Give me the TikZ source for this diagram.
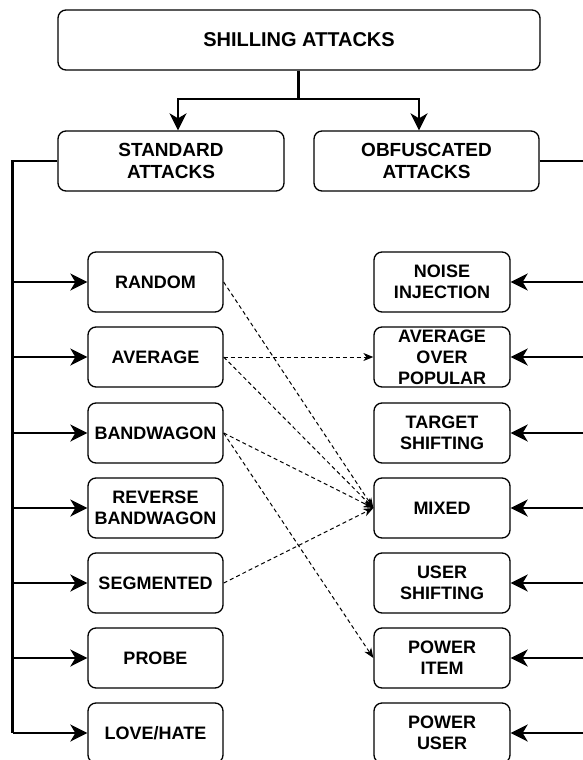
\documentclass[tikz,border=0pt]{standalone}
\usepackage{fontspec}
\setmainfont{Liberation Sans}
\usetikzlibrary{arrows.meta}
\tikzset{
  box/.style={draw, line width=1.3pt, rounded corners=8pt, align=center, inner sep=0pt,
    font=\bfseries\fontsize{18}{21}\selectfont, minimum width=135pt, minimum height=60pt},
  bigbox/.style={box, font=\bfseries\fontsize{19}{22}\selectfont, minimum width=225pt},
  conn/.style={line width=2.5pt, -{Stealth[length=17pt,width=17pt,inset=5pt]}},
  trunk/.style={line width=2.5pt},
  dashconn/.style={line width=1pt, dash pattern=on 4pt off 3pt, -{Stealth[length=10pt,width=8pt,inset=3pt]}}
}
\begin{document}
\begin{tikzpicture}[x=1pt,y=-1pt]
\useasboundingbox (0,0) rectangle (583,760);
% top
\node[box, font=\bfseries\fontsize{20}{24}\selectfont, minimum width=482pt] (top) at (299,40) {SHILLING ATTACKS};
\node[bigbox, minimum width=226pt] (std) at (171,161) {STANDARD\\ATTACKS};
\node[bigbox] (obf) at (426.5,161) {OBFUSCATED\\ATTACKS};
% left column
\node[box] (l1) at (155.5,282) {RANDOM};
\node[box] (l2) at (155.5,357) {AVERAGE};
\node[box] (l3) at (155.5,433) {BANDWAGON};
\node[box] (l4) at (155.5,508) {REVERSE\\BANDWAGON};
\node[box] (l5) at (155.5,583) {SEGMENTED};
\node[box] (l6) at (155.5,658) {PROBE};
\node[box] (l7) at (155.5,733) {LOVE/HATE};
% right column
\node[box, minimum width=136pt] (r1) at (442,282) {NOISE\\INJECTION};
\node[box, minimum width=136pt] (r2) at (442,357) {AVERAGE\\OVER\\POPULAR};
\node[box, minimum width=136pt] (r3) at (442,433) {TARGET\\SHIFTING};
\node[box, minimum width=136pt] (r4) at (442,508) {MIXED};
\node[box, minimum width=136pt] (r5) at (442,583) {USER\\SHIFTING};
\node[box, minimum width=136pt] (r6) at (442,658) {POWER\\ITEM};
\node[box, minimum width=136pt] (r7) at (442,733) {POWER\\USER};
% split from top
\coordinate (split) at (298.5,99);
\coordinate (sl) at (178,99);
\coordinate (sr) at (419,99);
\draw[trunk] (top.south -| split) -- (split);
\draw[conn] (split) -- (sl) -- (sl |- std.north);
\draw[conn] (split) -- (sr) -- (sr |- obf.north);
% left trunk
\coordinate (lt) at (12.7,161);
\draw[trunk] (std.west) -- (lt) -- (lt |- l7.west);
\foreach \n in {l1,l2,l3,l4,l5,l6,l7}
  \draw[conn] (lt |- \n.west) -- (\n.west);
% right trunk
\coordinate (rt) at (586,161);
\draw[trunk] (obf.east) -- (rt) -- (rt |- r7.east);
\foreach \n in {r1,r2,r3,r4,r5,r6,r7}
  \draw[conn] (rt |- \n.east) -- (\n.east);
% dashed relations
\draw[dashconn] (l1.east) -- (r4.west);
\draw[dashconn] (l2.east) -- (r2.west);
\draw[dashconn] (l2.east) -- (r4.west);
\draw[dashconn] (l3.east) -- (r4.west);
\draw[dashconn] (l3.east) -- (r6.west);
\draw[dashconn] (l5.east) -- (r4.west);
\end{tikzpicture}
\end{document}
